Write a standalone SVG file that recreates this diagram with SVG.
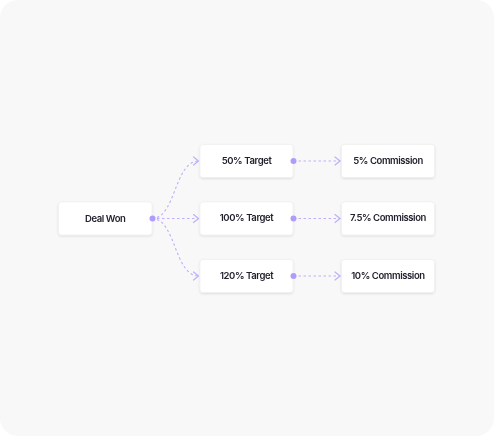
<svg xmlns="http://www.w3.org/2000/svg" width="494" height="436" viewBox="0 0 494 436">
  <defs>
    <filter id="sh" x="-20%" y="-30%" width="140%" height="170%">
      <feDropShadow dx="0" dy="1" stdDeviation="1.2" flood-color="#000" flood-opacity="0.12"/>
    </filter>
    <marker id="arr" viewBox="0 0 10 10" refX="9" refY="5" markerWidth="10" markerHeight="10" markerUnits="userSpaceOnUse" orient="auto">
      <path d="M3.5,1 L8.5,5 L3.5,9" fill="none" stroke="#c0aefc" stroke-width="1.2" stroke-linecap="round" stroke-linejoin="round"/>
    </marker>
  </defs>
  <style>
    .node rect { fill: #ffffff; stroke: #ececec; stroke-width: 0.6; }
    .node text { font-family: Inter, "Liberation Sans", sans-serif; font-size: 9.5px; font-weight: 600; letter-spacing: -0.4px; fill: #22222e; text-anchor: middle; dominant-baseline: central; }
    .edge { fill: none; stroke: #c0aefc; stroke-width: 1.1; stroke-dasharray: 2.5 2.5; }
    .dot { fill: #b19cfb; }
  </style>
  <rect x="0" y="0" width="494" height="436" rx="18" fill="#f8f8f8"/>
  <g id="deal-won" class="node" filter="url(#sh)">
    <rect x="58.5" y="202" width="93.5" height="33" rx="3"/>
    <text x="105.2" y="218">Deal Won</text>
  </g>
  <g id="t50" class="node" filter="url(#sh)">
    <rect x="200" y="144.5" width="93" height="33" rx="3"/>
    <text x="246.5" y="160">50% Target</text>
  </g>
  <g id="t100" class="node" filter="url(#sh)">
    <rect x="200" y="202" width="93" height="33" rx="3"/>
    <text x="246.5" y="217.5">100% Target</text>
  </g>
  <g id="t120" class="node" filter="url(#sh)">
    <rect x="200" y="259.5" width="93" height="33" rx="3"/>
    <text x="246.5" y="275">120% Target</text>
  </g>
  <g id="c5" class="node" filter="url(#sh)">
    <rect x="341.5" y="144.5" width="93" height="33" rx="3"/>
    <text x="388" y="160">5% Commission</text>
  </g>
  <g id="c75" class="node" filter="url(#sh)">
    <rect x="341.5" y="202" width="93" height="33" rx="3"/>
    <text x="388" y="217.5">7.5% Commission</text>
  </g>
  <g id="c10" class="node" filter="url(#sh)">
    <rect x="341.5" y="259.5" width="93" height="33" rx="3"/>
    <text x="388" y="275">10% Commission</text>
  </g>
  <g id="connectors">
    <path class="edge" d="M152,218.5 C176,218.5 174,161 199,161" marker-end="url(#arr)"/>
    <path class="edge" d="M152,218.5 L199,218.5" marker-end="url(#arr)"/>
    <path class="edge" d="M152,218.5 C176,218.5 174,276 199,276" marker-end="url(#arr)"/>
    <path class="edge" d="M293.5,161 L340.5,161" marker-end="url(#arr)"/>
    <path class="edge" d="M293.5,218.5 L340.5,218.5" marker-end="url(#arr)"/>
    <path class="edge" d="M293.5,276 L340.5,276" marker-end="url(#arr)"/>
    <circle class="dot" cx="152.5" cy="218.5" r="3"/>
    <circle class="dot" cx="293.5" cy="161" r="3"/>
    <circle class="dot" cx="293.5" cy="218.5" r="3"/>
    <circle class="dot" cx="293.5" cy="276" r="3"/>
  </g>
</svg>
